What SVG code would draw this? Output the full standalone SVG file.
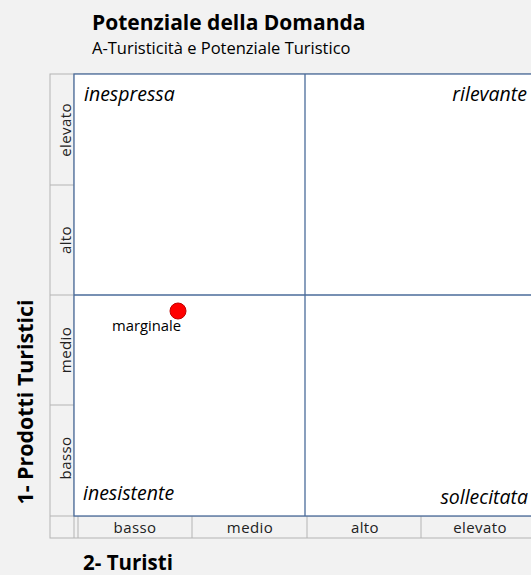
<svg xmlns="http://www.w3.org/2000/svg" width="531" height="575" viewBox="0 0 531 575">
<style>
.t{font-family:"Open Sans","Liberation Sans",Arial,sans-serif;fill:#000}
.b{font-weight:bold}
.ax{font-size:15px;letter-spacing:0.4px;text-anchor:middle;fill:#222}
.q{font-size:19.5px;font-style:italic}
.g{stroke:#b4b4b4;stroke-width:1;fill:none}
.p{stroke:#4a6b9a;stroke-width:1.3;fill:none}
.w{fill:#ffffff;stroke:#4a6b9a;stroke-width:1.3}
</style>
<rect width="531" height="575" fill="#f2f2f2"/>
<g id="frame">
<rect x="50" y="74" width="490" height="464" class="g"/>
<line x1="74" y1="74" x2="74" y2="538" class="g"/>
<line x1="50" y1="516" x2="540" y2="516" class="g"/>
<line x1="50" y1="185" x2="74" y2="185" class="g"/>
<line x1="50" y1="295" x2="74" y2="295" class="g"/>
<line x1="50" y1="405" x2="74" y2="405" class="g"/>
<line x1="78" y1="516" x2="78" y2="538" class="g"/>
<line x1="192" y1="516" x2="192" y2="538" class="g"/>
<line x1="307" y1="516" x2="307" y2="538" class="g"/>
<line x1="421" y1="516" x2="421" y2="538" class="g"/>
</g>
<g id="plot">
<rect x="74" y="74" width="470" height="442" class="w"/>
<line x1="305" y1="74" x2="305" y2="516" class="p"/>
<line x1="74" y1="295" x2="544" y2="295" class="p"/>
</g>
<g id="title">
<text class="t b" x="92" y="30" font-size="21">Potenziale della Domanda</text>
<text class="t" x="92" y="54" font-size="16.5" fill="#222">A-Turisticità e Potenziale Turistico</text>
</g>
<g id="quadrants">
<text class="t q" x="84" y="101">inespressa</text>
<text class="t q" x="527" y="101" text-anchor="end">rilevante</text>
<text class="t q" x="83" y="500">inesistente</text>
<text class="t q" x="528" y="504" text-anchor="end">sollecitata</text>
</g>
<g id="y-axis">
<text class="t ax" transform="translate(71,130) rotate(-90)">elevato</text>
<text class="t ax" transform="translate(71,240) rotate(-90)">alto</text>
<text class="t ax" transform="translate(71,350) rotate(-90)">medio</text>
<text class="t ax" transform="translate(71,458) rotate(-90)">basso</text>
<text class="t b" font-size="21.4" text-anchor="middle" transform="translate(33,402) rotate(-90)">1- Prodotti Turistici</text>
</g>
<g id="x-axis">
<text class="t ax" x="135" y="533">basso</text>
<text class="t ax" x="250" y="533">medio</text>
<text class="t ax" x="365" y="533">alto</text>
<text class="t ax" x="480" y="533">elevato</text>
<text class="t b" x="83" y="570" font-size="20.5">2- Turisti</text>
</g>
<g id="marginale">
<circle cx="178" cy="311" r="8" fill="#ff0000" stroke="#c00000" stroke-width="1"/>
<text class="t" x="112" y="331" font-size="14.8">marginale</text>
</g>
</svg>
